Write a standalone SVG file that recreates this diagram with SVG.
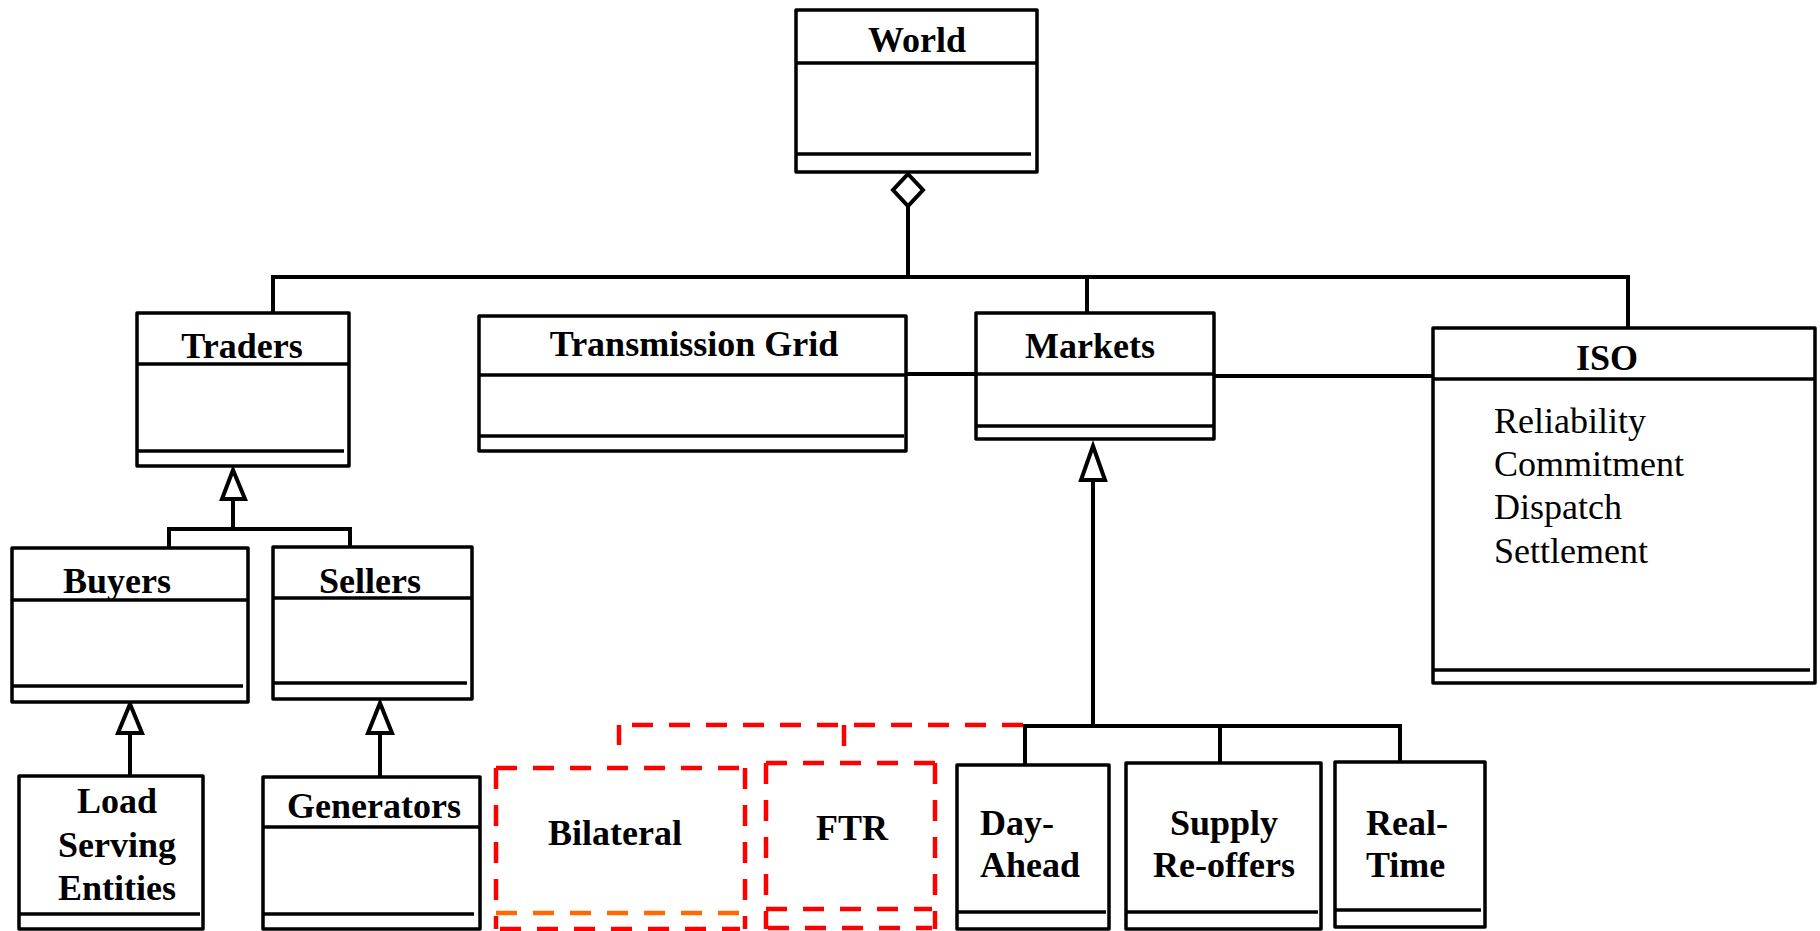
<svg xmlns="http://www.w3.org/2000/svg" width="1820" height="931" viewBox="0 0 1820 931">
<style>
.box{fill:#fff;stroke:#000;stroke-width:3.5;stroke-linejoin:round}
.ln{stroke:#000;stroke-width:3.5;fill:none}
.con{stroke:#000;stroke-width:4;fill:none}
.tri{fill:#fff;stroke:#000;stroke-width:4;stroke-linejoin:miter}
.dash{stroke:#ff0000;stroke-width:4.5;fill:none;stroke-dasharray:21 16}
.dasho{stroke:#ff6a00;stroke-width:4.5;fill:none;stroke-dasharray:21 16}
.t{font-family:"Liberation Serif","Times New Roman",serif;font-weight:bold;font-size:36px;fill:#000}
.a{font-family:"Liberation Serif","Times New Roman",serif;font-size:36px;fill:#000}
.c{text-anchor:middle}
</style>
<rect width="1820" height="931" fill="#fff"/>

<g id="connectors">
  <!-- aggregation from World -->
  <polygon class="tri" points="908,174 923,190 908,206 893,190"/>
  <line class="con" x1="908" y1="206" x2="908" y2="277"/>
  <line class="con" x1="271" y1="277" x2="1630" y2="277"/>
  <line class="con" x1="273" y1="277" x2="273" y2="313"/>
  <line class="con" x1="1087" y1="277" x2="1087" y2="313"/>
  <line class="con" x1="1628" y1="277" x2="1628" y2="328"/>
  <!-- associations -->
  <line class="con" x1="906" y1="374" x2="976" y2="374"/>
  <line class="con" x1="1214" y1="376" x2="1433" y2="376"/>
  <!-- Traders generalization -->
  <polygon class="tri" points="233,470 245,499 222,499"/>
  <line class="con" x1="233" y1="499" x2="233" y2="529"/>
  <line class="con" x1="167" y1="529" x2="352" y2="529"/>
  <line class="con" x1="169" y1="529" x2="169" y2="548"/>
  <line class="con" x1="350" y1="529" x2="350" y2="547"/>
  <!-- Buyers <- LSE -->
  <polygon class="tri" points="130,704 142,733 118,733"/>
  <line class="con" x1="130" y1="733" x2="130" y2="776"/>
  <!-- Sellers <- Generators -->
  <polygon class="tri" points="380,703 392,733 368,733"/>
  <line class="con" x1="380" y1="733" x2="380" y2="777"/>
  <!-- Markets generalization -->
  <polygon class="tri" points="1093,446 1105,480 1081,480"/>
  <line class="con" x1="1093" y1="480" x2="1093" y2="726"/>
  <line class="con" x1="1023" y1="726" x2="1402" y2="726"/>
  <line class="con" x1="1025" y1="726" x2="1025" y2="765"/>
  <line class="con" x1="1220" y1="726" x2="1220" y2="763"/>
  <line class="con" x1="1400" y1="726" x2="1400" y2="762"/>
  <!-- dashed links to Bilateral / FTR -->
  <line class="dash" x1="1023" y1="725" x2="619" y2="725"/>
  <line class="dash" x1="619" y1="725" x2="619" y2="745"/>
  <line class="dash" x1="844" y1="725" x2="844" y2="760"/>
</g>

<g id="world">
  <rect class="box" x="796" y="10" width="241" height="162"/>
  <line class="ln" x1="796" y1="63" x2="1037" y2="63"/>
  <line class="ln" x1="796" y1="154" x2="1031" y2="154"/>
  <text class="t c" x="917" y="52">World</text>
</g>

<g id="traders">
  <rect class="box" x="137" y="313" width="212" height="153"/>
  <line class="ln" x1="137" y1="364" x2="349" y2="364"/>
  <line class="ln" x1="137" y1="451" x2="344" y2="451"/>
  <text class="t c" x="242" y="358">Traders</text>
</g>

<g id="transmission-grid">
  <rect class="box" x="479" y="316" width="427" height="135"/>
  <line class="ln" x1="479" y1="375" x2="906" y2="375"/>
  <line class="ln" x1="479" y1="436" x2="904" y2="436"/>
  <text class="t c" x="694" y="356">Transmission Grid</text>
</g>

<g id="markets">
  <rect class="box" x="976" y="313" width="238" height="126"/>
  <line class="ln" x1="976" y1="374" x2="1214" y2="374"/>
  <line class="ln" x1="976" y1="426" x2="1214" y2="426"/>
  <text class="t c" x="1090" y="358">Markets</text>
</g>

<g id="iso">
  <rect class="box" x="1433" y="328" width="382" height="355"/>
  <line class="ln" x1="1433" y1="379" x2="1815" y2="379"/>
  <line class="ln" x1="1433" y1="670" x2="1810" y2="670"/>
  <text class="t c" x="1607" y="370">ISO</text>
  <text class="a" x="1494" y="433">Reliability</text>
  <text class="a" x="1494" y="476">Commitment</text>
  <text class="a" x="1494" y="519">Dispatch</text>
  <text class="a" x="1494" y="563">Settlement</text>
</g>

<g id="buyers">
  <rect class="box" x="12" y="548" width="236" height="154"/>
  <line class="ln" x1="12" y1="600" x2="248" y2="600"/>
  <line class="ln" x1="12" y1="686" x2="243" y2="686"/>
  <text class="t c" x="117" y="593">Buyers</text>
</g>

<g id="sellers">
  <rect class="box" x="273" y="547" width="199" height="152"/>
  <line class="ln" x1="273" y1="598" x2="472" y2="598"/>
  <line class="ln" x1="273" y1="683" x2="467" y2="683"/>
  <text class="t c" x="370" y="593">Sellers</text>
</g>

<g id="lse">
  <rect class="box" x="19" y="776" width="184" height="153"/>
  <line class="ln" x1="19" y1="914" x2="200" y2="914"/>
  <text class="t c" x="117" y="813">Load</text>
  <text class="t c" x="117" y="857">Serving</text>
  <text class="t c" x="117" y="900">Entities</text>
</g>

<g id="generators">
  <rect class="box" x="263" y="777" width="217" height="152"/>
  <line class="ln" x1="263" y1="827" x2="480" y2="827"/>
  <line class="ln" x1="263" y1="914" x2="474" y2="914"/>
  <text class="t c" x="374" y="818">Generators</text>
</g>

<g id="bilateral">
  <path class="dash" d="M496,768 H745"/>
  <path class="dash" d="M496,768 V929"/>
  <path class="dash" d="M745,768 V929"/>
  <path class="dasho" d="M496,913 H740"/>
  <path class="dash" d="M500,929 H740"/>
  <text class="t c" x="615" y="845">Bilateral</text>
</g>

<g id="ftr">
  <path class="dash" d="M766,763 H935"/>
  <path class="dash" d="M766,763 V929"/>
  <path class="dash" d="M935,763 V929"/>
  <path class="dash" d="M766,909 H932"/>
  <path class="dash" d="M768,928 H932"/>
  <text class="t c" x="852" y="840">FTR</text>
</g>

<g id="day-ahead">
  <rect class="box" x="957" y="765" width="152" height="164"/>
  <line class="ln" x1="957" y1="912" x2="1106" y2="912"/>
  <text class="t" x="980" y="835">Day-</text>
  <text class="t" x="980" y="877">Ahead</text>
</g>

<g id="supply-reoffers">
  <rect class="box" x="1126" y="763" width="195" height="166"/>
  <line class="ln" x1="1126" y1="912" x2="1318" y2="912"/>
  <text class="t c" x="1224" y="835">Supply</text>
  <text class="t c" x="1224" y="877">Re-offers</text>
</g>

<g id="real-time">
  <rect class="box" x="1335" y="762" width="150" height="165"/>
  <line class="ln" x1="1335" y1="910" x2="1481" y2="910"/>
  <text class="t" x="1366" y="835">Real-</text>
  <text class="t" x="1366" y="877">Time</text>
</g>
</svg>
